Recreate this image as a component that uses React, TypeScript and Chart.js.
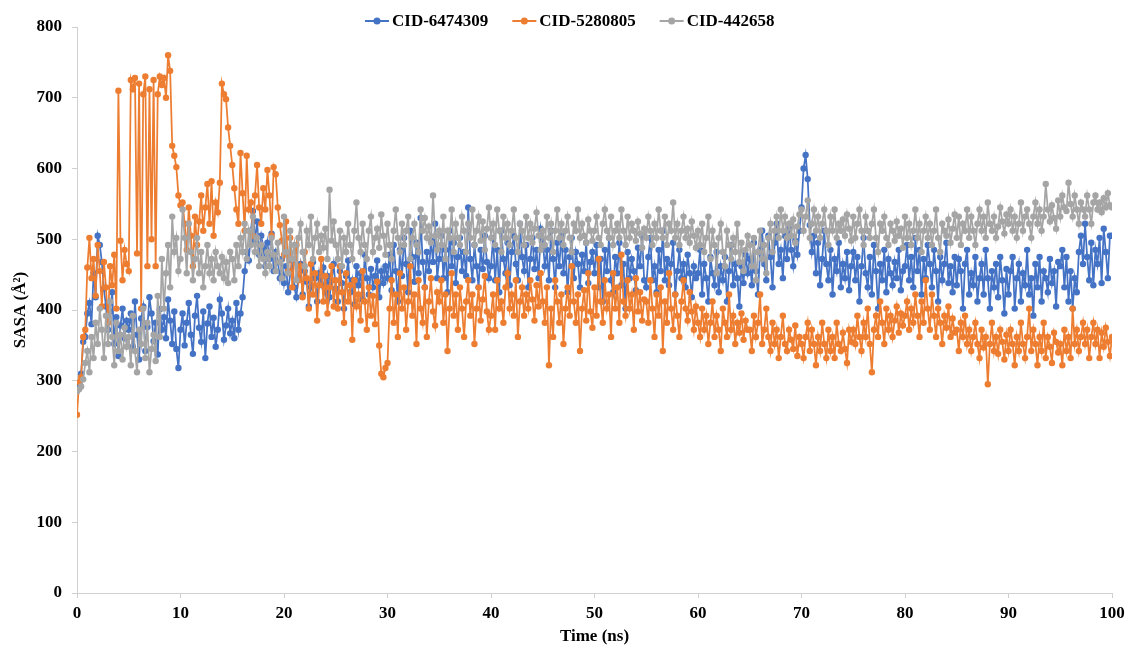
import { useEffect, useRef } from "react";
import { Chart, registerables } from "chart.js";

Chart.register(...registerables);

// Sampling interval of the trajectory, in nanoseconds
const STEP_NS = 0.2;

// Solvent accessible surface area (Å²) per frame, 0–100 ns (25 frames per row = 5 ns)
const cid6474309 = [
  290, 292, 310, 355, 362, 395, 410, 380, 452, 418, 505, 492, 468, 430, 405, 372, 398, 425, 352, 390, 335, 378, 402, 360, 385, // 0–5
  372, 395, 348, 412, 365, 330, 388, 405, 342, 376, 418, 395, 356, 382, 337, 401, 372, 390, 360, 415, 385, 352, 398, 345, 318, // 5–10
  372, 395, 350, 382, 410, 365, 338, 392, 420, 375, 355, 398, 332, 381, 405, 362, 389, 348, 372, 415, 395, 358, 378, 402, 367, // 10–15
  385, 360, 410, 372, 395, 418, 455, 482, 470, 512, 540, 498, 525, 478, 505, 488, 462, 495, 472, 508, 455, 482, 468, 445, 472, // 15–20
  438, 462, 425, 452, 470, 432, 418, 448, 465, 422, 455, 440, 405, 432, 468, 445, 412, 452, 436, 460, 425, 448, 418, 442, 465, // 20–25
  430, 412, 455, 438, 402, 448, 470, 425, 442, 408, 462, 435, 452, 415, 478, 445, 422, 458, 432, 448, 470, 418, 455, 438, 462, // 25–30
  445, 478, 428, 492, 455, 412, 485, 448, 502, 465, 425, 512, 475, 440, 495, 452, 530, 468, 432, 482, 455, 498, 468, 522, 445, // 30–35
  472, 505, 445, 485, 425, 512, 462, 495, 438, 475, 502, 455, 482, 448, 545, 472, 442, 492, 462, 432, 485, 458, 505, 468, 445, // 35–40
  462, 502, 442, 485, 425, 512, 472, 452, 495, 435, 482, 505, 465, 442, 522, 475, 455, 492, 432, 472, 502, 458, 485, 445, 515, // 40–45
  498, 462, 485, 442, 512, 472, 432, 495, 462, 505, 452, 485, 425, 475, 502, 445, 482, 465, 432, 478, 455, 495, 438, 468, 482, // 45–50
  452, 492, 432, 472, 412, 485, 455, 502, 442, 425, 475, 452, 495, 435, 465, 402, 482, 445, 472, 455, 428, 488, 462, 505, 442, // 50–55
  432, 475, 502, 442, 462, 425, 485, 455, 512, 442, 472, 435, 465, 495, 422, 455, 485, 445, 465, 432, 478, 452, 418, 462, 445, // 55–60
  452, 485, 422, 465, 445, 412, 475, 452, 435, 482, 425, 462, 442, 475, 412, 455, 492, 435, 465, 445, 405, 462, 438, 478, 452, // 60–65
  472, 435, 495, 455, 422, 485, 512, 465, 442, 505, 475, 432, 495, 522, 465, 485, 445, 505, 472, 515, 485, 462, 498, 478, 512, // 65–70
  545, 600, 619, 585, 520, 482, 505, 452, 495, 435, 472, 512, 465, 442, 485, 422, 472, 455, 495, 432, 465, 445, 482, 428, 462, // 70–75
  482, 442, 475, 412, 462, 502, 452, 432, 475, 422, 492, 455, 402, 465, 442, 485, 425, 472, 452, 435, 468, 445, 485, 428, 455, // 75–80
  462, 492, 442, 475, 432, 502, 455, 485, 422, 472, 445, 492, 465, 432, 485, 455, 412, 475, 442, 465, 495, 438, 462, 425, 475, // 80–85
  435, 472, 455, 402, 465, 485, 422, 452, 435, 475, 412, 445, 465, 422, 485, 445, 402, 455, 432, 465, 418, 475, 442, 395, 458, // 85–90
  422, 455, 475, 402, 445, 465, 412, 452, 435, 485, 422, 445, 392, 465, 432, 475, 412, 455, 445, 425, 472, 438, 455, 405, 468, // 90–95
  462, 485, 432, 475, 412, 455, 402, 445, 425, 482, 505, 465, 522, 475, 442, 495, 435, 485, 465, 502, 438, 515, 482, 445, 505, // 95–100
  505,
];

const cid5280805 = [
  252, 298, 305, 362, 372, 460, 502, 445, 472, 420, 492, 455, 405, 468, 432, 382, 462, 435, 478, 402, 710, 498, 442, 485, 465, // 0–5
  455, 725, 712, 728, 480, 720, 402, 705, 730, 462, 712, 500, 725, 462, 705, 730, 718, 728, 700, 760, 738, 632, 618, 602, 562, // 5–10
  548, 552, 522, 485, 545, 505, 462, 532, 492, 525, 562, 512, 545, 578, 522, 582, 505, 552, 538, 580, 720, 705, 698, 658, 632, // 10–15
  605, 572, 542, 522, 622, 565, 512, 618, 542, 552, 505, 562, 605, 545, 522, 572, 542, 598, 562, 505, 602, 592, 545, 520, 498, // 15–20
  478, 525, 455, 502, 432, 472, 492, 442, 462, 418, 482, 445, 402, 465, 422, 452, 385, 435, 472, 412, 448, 395, 432, 462, 405, // 20–25
  442, 402, 462, 425, 382, 452, 412, 435, 358, 442, 405, 422, 385, 455, 412, 372, 432, 392, 420, 380, 440, 350, 310, 305, 318, // 25–30
  325, 402, 442, 382, 422, 362, 452, 402, 432, 372, 412, 462, 392, 422, 352, 442, 402, 382, 432, 362, 412, 445, 398, 378, 425, // 30–35
  412, 442, 382, 422, 342, 402, 452, 392, 422, 372, 432, 402, 362, 412, 442, 392, 422, 352, 402, 432, 385, 415, 448, 398, 372, // 35–40
  392, 422, 372, 442, 402, 412, 382, 432, 452, 402, 422, 392, 442, 362, 412, 432, 392, 422, 402, 442, 415, 385, 435, 405, 452, // 40–45
  412, 382, 432, 322, 402, 362, 442, 412, 382, 422, 352, 402, 432, 392, 462, 412, 382, 422, 342, 402, 428, 385, 452, 398, 375, // 45–50
  432, 392, 472, 412, 382, 442, 402, 422, 362, 452, 402, 432, 382, 478, 412, 392, 442, 402, 422, 372, 445, 398, 425, 385, 415, // 50–55
  412, 382, 442, 402, 362, 422, 392, 432, 342, 412, 382, 452, 402, 372, 422, 392, 362, 412, 442, 402, 385, 425, 398, 372, 405, // 55–60
  382, 362, 402, 372, 392, 352, 382, 412, 362, 392, 372, 342, 402, 382, 362, 422, 372, 392, 352, 382, 368, 395, 358, 385, 372, // 60–65
  372, 342, 392, 362, 382, 422, 352, 372, 402, 362, 342, 382, 352, 372, 332, 362, 392, 352, 342, 372, 358, 345, 378, 335, 362, // 65–70
  352, 332, 362, 382, 342, 372, 352, 322, 362, 342, 382, 352, 332, 372, 342, 362, 332, 382, 352, 342, 368, 345, 325, 372, 355, // 70–75
  372, 352, 392, 362, 342, 382, 362, 402, 352, 312, 372, 392, 362, 412, 382, 352, 402, 372, 392, 362, 385, 405, 368, 395, 378, // 75–80
  392, 412, 372, 402, 382, 422, 392, 362, 412, 382, 442, 402, 372, 422, 392, 362, 402, 382, 352, 392, 375, 405, 362, 388, 368, // 80–85
  372, 342, 382, 362, 392, 352, 372, 342, 362, 382, 352, 332, 372, 347, 362, 295, 352, 382, 342, 362, 338, 372, 355, 330, 365, // 85–90
  342, 372, 352, 322, 362, 342, 382, 352, 332, 362, 402, 342, 372, 352, 322, 362, 342, 382, 332, 362, 348, 325, 368, 355, 340, // 90–95
  352, 322, 372, 342, 362, 332, 402, 352, 372, 342, 362, 382, 352, 372, 332, 362, 382, 352, 372, 332, 368, 348, 375, 355, 335, // 95–100
  362,
];

const cid442658 = [
  285, 288, 292, 302, 325, 342, 312, 362, 332, 382, 352, 402, 372, 332, 392, 352, 412, 362, 322, 382, 342, 365, 330, 375, 348, // 0–5
  362, 322, 392, 342, 312, 372, 352, 402, 332, 382, 312, 345, 365, 328, 420, 362, 472, 402, 452, 492, 432, 532, 482, 502, 455, // 5–10
  472, 542, 502, 452, 522, 482, 442, 472, 502, 452, 482, 432, 462, 492, 452, 472, 442, 482, 462, 452, 475, 445, 468, 438, 482, // 10–15
  472, 442, 492, 462, 502, 482, 522, 472, 512, 492, 532, 482, 502, 462, 492, 472, 452, 482, 462, 502, 478, 455, 495, 468, 445, // 15–20
  532, 482, 452, 512, 472, 492, 442, 502, 522, 482, 462, 512, 492, 532, 472, 502, 522, 482, 505, 488, 515, 472, 570, 498, 525, // 20–25
  492, 472, 512, 462, 502, 482, 522, 492, 472, 512, 552, 502, 482, 522, 492, 472, 512, 532, 482, 502, 515, 488, 535, 505, 478, // 25–30
  522, 492, 472, 512, 542, 502, 482, 522, 492, 512, 532, 472, 502, 522, 492, 482, 542, 512, 530, 502, 518, 495, 562, 505, 485, // 30–35
  512, 492, 532, 472, 512, 502, 542, 482, 522, 502, 492, 532, 512, 482, 522, 502, 542, 492, 512, 532, 498, 525, 485, 515, 545, // 35–40
  502, 522, 492, 542, 512, 482, 532, 502, 522, 492, 512, 542, 502, 482, 522, 512, 492, 532, 502, 522, 495, 515, 538, 505, 485, // 40–45
  512, 492, 532, 502, 522, 482, 512, 542, 502, 522, 492, 512, 532, 502, 482, 522, 512, 542, 502, 522, 505, 495, 528, 512, 498, // 45–50
  512, 532, 502, 492, 522, 542, 512, 502, 532, 492, 512, 522, 502, 542, 512, 492, 532, 502, 522, 512, 498, 525, 508, 488, 515, // 50–55
  502, 532, 512, 492, 522, 502, 542, 512, 502, 532, 492, 522, 512, 552, 502, 522, 492, 512, 532, 502, 515, 495, 525, 505, 488, // 55–60
  512, 492, 522, 482, 502, 532, 472, 512, 492, 452, 502, 522, 482, 462, 512, 492, 472, 502, 482, 522, 468, 495, 455, 485, 505, // 60–65
  492, 462, 502, 442, 482, 512, 472, 492, 452, 502, 522, 482, 512, 532, 502, 542, 512, 532, 502, 522, 505, 528, 495, 518, 535, // 65–70
  542, 512, 532, 555, 502, 522, 542, 512, 532, 502, 522, 542, 512, 492, 532, 512, 542, 502, 522, 512, 528, 505, 535, 515, 498, // 70–75
  532, 502, 522, 542, 512, 492, 532, 512, 502, 522, 542, 502, 482, 522, 512, 532, 502, 492, 522, 512, 498, 525, 505, 515, 488, // 75–80
  532, 502, 522, 492, 512, 542, 502, 522, 482, 512, 532, 502, 522, 492, 512, 542, 502, 482, 522, 512, 505, 528, 495, 515, 535, // 80–85
  502, 532, 492, 522, 512, 542, 502, 532, 512, 492, 522, 542, 512, 532, 502, 552, 522, 512, 532, 502, 518, 545, 525, 508, 535, // 85–90
  522, 542, 512, 532, 502, 522, 552, 512, 532, 542, 522, 502, 532, 552, 522, 542, 512, 532, 578, 542, 525, 548, 530, 515, 555, // 90–95
  532, 562, 545, 540, 580, 550, 532, 562, 542, 522, 552, 542, 532, 562, 542, 522, 552, 562, 542, 552, 538, 558, 545, 565, 548, // 95–100
  545,
];

const seriesNames = ["CID-6474309", "CID-5280805", "CID-442658"];
const seriesValues = [cid6474309, cid5280805, cid442658];
const seriesColors = ["#4472C4", "#ED7D31", "#A5A5A5"];
// Later series are painted on top of earlier ones
const seriesOrder = [3, 2, 1];

const FONT = "'Liberation Serif', 'Times New Roman', serif";
const AXIS_COLOR = "#d0d0d0";

// Legend drawn as a short line with a centred marker, followed by the name
const lineLegend = {
  id: "lineLegend",
  afterDraw(chart: Chart) {
    const { ctx } = chart;
    ctx.save();
    ctx.font = `bold 17px ${FONT}`;
    ctx.textBaseline = "middle";
    ctx.textAlign = "left";
    let x = 365;
    const y = 21;
    chart.data.datasets.forEach((ds: any) => {
      ctx.strokeStyle = ds.borderColor;
      ctx.lineWidth = 2;
      ctx.beginPath();
      ctx.moveTo(x, y);
      ctx.lineTo(x + 24, y);
      ctx.stroke();
      ctx.fillStyle = ds.borderColor;
      ctx.beginPath();
      ctx.arc(x + 12, y, 3.5, 0, Math.PI * 2);
      ctx.fill();
      ctx.fillStyle = "#000";
      ctx.fillText(ds.label, x + 27, y + 1);
      x += 27 + ctx.measureText(ds.label).width + 24;
    });
    ctx.restore();
  },
};

export default function App() {
  const canvasRef = useRef<HTMLCanvasElement | null>(null);

  useEffect(() => {
    if (!canvasRef.current) return;
    const datasets = seriesValues.map((values, s) => ({
      label: seriesNames[s],
      data: values.map((v, i) => ({ x: i * STEP_NS, y: v })),
      borderColor: seriesColors[s],
      backgroundColor: seriesColors[s],
      borderWidth: 1.75,
      pointRadius: 3.2,
      pointHoverRadius: 3.2,
      pointBorderWidth: 0,
      tension: 0,
      order: seriesOrder[s],
    }));

    const chart = new Chart(canvasRef.current, {
      type: "line",
      data: { datasets },
      plugins: [lineLegend],
      options: {
        responsive: true,
        maintainAspectRatio: false,
        animation: false,
        layout: { padding: { top: 27, right: 14, bottom: 0, left: 0 } },
        plugins: {
          legend: { display: false },
          tooltip: { enabled: false },
        },
        scales: {
          x: {
            type: "linear",
            min: 0,
            max: 100,
            afterFit: (scale: any) => {
              scale.height = 57;
              scale.paddingLeft = 0;
              scale.paddingRight = 0;
            },
            ticks: {
              stepSize: 10,
              color: "#000",
              padding: 5,
              maxRotation: 0,
              font: { family: FONT, size: 17, weight: "bold" },
            },
            grid: {
              drawOnChartArea: false,
              drawTicks: true,
              tickLength: 5,
              color: AXIS_COLOR,
            },
            border: { display: true, color: AXIS_COLOR, width: 1 },
            title: {
              display: true,
              text: "Time (ns)",
              color: "#000",
              font: { family: FONT, size: 17, weight: "bold" },
              padding: { top: 0, bottom: 3 },
            },
          },
          y: {
            type: "linear",
            min: 0,
            max: 800,
            afterFit: (scale: any) => {
              scale.width = 77;
            },
            ticks: {
              stepSize: 100,
              color: "#000",
              padding: 10,
              font: { family: FONT, size: 17, weight: "bold" },
            },
            grid: {
              drawOnChartArea: false,
              drawTicks: true,
              tickLength: 5,
              color: AXIS_COLOR,
            },
            border: { display: true, color: AXIS_COLOR, width: 1 },
            title: {
              display: true,
              text: "SASA (Å²)",
              color: "#000",
              font: { family: FONT, size: 17, weight: "bold" },
              padding: { top: 10, bottom: 0 },
            },
          },
        },
      },
    });

    return () => chart.destroy();
  }, []);

  return (
    <div
      style={{
        position: "fixed",
        left: 0,
        top: 0,
        width: 1126,
        height: 650,
        background: "#fff",
      }}
    >
      <canvas ref={canvasRef} />
    </div>
  );
}
